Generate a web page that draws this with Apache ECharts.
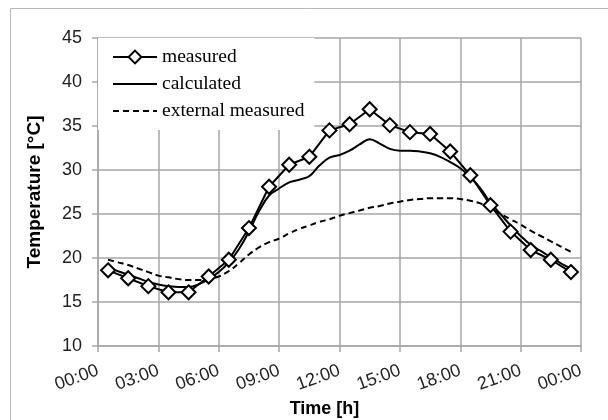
<!DOCTYPE html>
<html>
<head>
<meta charset="utf-8">
<script src="https://cdn.jsdelivr.net/npm/echarts@6/dist/echarts.min.js"></script>
<style>
  html, body { margin: 0; padding: 0; background: #fff; }
  #main { width: 608px; height: 420px; }
</style>
</head>
<body>
<div id="main"></div>
<script>
// hours of day for the measured points
var measuredHours = [0.5, 1.5, 2.5, 3.5, 4.5, 5.5, 6.5, 7.5, 8.5, 9.5, 10.5, 11.5,
  12.5, 13.5, 14.5, 15.5, 16.5, 17.5, 18.5, 19.5, 20.5, 21.5, 22.5, 23.5];
var measured = [18.6, 17.7, 16.8, 16.1, 16.1, 17.9, 19.8, 23.4, 28.1, 30.6, 31.5, 34.5,
  35.2, 36.9, 35.1, 34.3, 34.1, 32.1, 29.4, 26.0, 23.0, 20.9, 19.8, 18.4];

// half-hourly curves
var curveHours = [0.5, 1, 1.5, 2, 2.5, 3, 3.5, 4, 4.5, 5, 5.5, 6, 6.5, 7, 7.5, 8, 8.5, 9,
  9.5, 10, 10.5, 11, 11.5, 12, 12.5, 13, 13.5, 14, 14.5, 15, 15.5, 16, 16.5, 17, 17.5,
  18, 18.5, 19, 19.5, 20, 20.5, 21, 21.5, 22, 22.5, 23, 23.5];
var calculated = [18.9, 18.5, 18.1, 17.7, 17.3, 17.0, 16.8, 16.7, 16.7, 17.0, 17.6, 18.4,
  19.5, 21.0, 23.0, 25.3, 27.1, 27.9, 28.6, 28.9, 29.3, 30.5, 31.4, 31.7, 32.2, 32.9,
  33.5, 33.0, 32.4, 32.2, 32.2, 32.1, 31.9, 31.5, 30.9, 30.2, 29.2, 27.9, 26.3, 25.0,
  23.7, 22.5, 21.5, 20.8, 20.1, 19.4, 18.8];
var external = [19.8, 19.5, 19.2, 18.8, 18.4, 18.0, 17.8, 17.6, 17.5, 17.5, 17.6, 17.9,
  18.5, 19.4, 20.4, 21.2, 21.8, 22.2, 22.8, 23.3, 23.7, 24.1, 24.4, 24.8, 25.1, 25.4,
  25.7, 25.9, 26.2, 26.4, 26.6, 26.7, 26.8, 26.8, 26.8, 26.7, 26.5, 26.2, 25.6, 25.0,
  24.4, 23.8, 23.1, 22.5, 21.9, 21.3, 20.7];

var seriesNames = ['measured', 'calculated', 'external measured'];

function pairs(xs, ys) {
  return xs.map(function (x, i) { return [x, ys[i]]; });
}

var chartDom = document.getElementById('main');
var myChart = echarts.init(chartDom);
var option;

var gridLine = { show: true, lineStyle: { color: '#a6a6a6', width: 1.5 } };
var axisLine = { show: true, lineStyle: { color: '#a6a6a6', width: 1.5 } };

option = {
  animation: false,
  graphic: [{
    type: 'rect',
    shape: { x: 10.5, y: 8.5, width: 640, height: 440 },
    style: { fill: 'none', stroke: '#b8b8b8', lineWidth: 1 },
    z: 0
  }],
  grid: { left: 98, right: 27, top: 38, bottom: 74, outerBoundsMode: 'none' },
  legend: {
    data: [
      { name: seriesNames[0] },
      { name: seriesNames[1], itemStyle: { opacity: 0 } },
      { name: seriesNames[2], itemStyle: { opacity: 0 } }
    ],
    orient: 'vertical',
    left: 98,
    top: 38,
    padding: [9, 10, 9, 14],
    itemGap: 7,
    itemWidth: 44,
    itemHeight: 16,
    backgroundColor: '#fff',
    textStyle: { fontFamily: 'Liberation Serif', fontSize: 19.5, color: '#000' }
  },
  xAxis: {
    type: 'value',
    min: 0,
    max: 24,
    interval: 3,
    name: 'Time [h]',
    nameLocation: 'middle',
    nameGap: 52,
    nameTextStyle: {
      fontFamily: 'Liberation Sans', fontSize: 18, fontWeight: 'bold', color: '#000',
      padding: [0, 30, 0, 0]
    },
    axisLine: axisLine,
    axisTick: { show: true, length: 6, lineStyle: { color: '#a6a6a6', width: 1.5 } },
    splitLine: gridLine,
    axisLabel: {
      rotate: 20,
      margin: 24,
      fontFamily: 'Liberation Sans',
      fontSize: 18,
      color: '#222',
      formatter: function (v) {
        var h = v % 24;
        return (h < 10 ? '0' : '') + h + ':00';
      }
    }
  },
  yAxis: {
    type: 'value',
    min: 10,
    max: 45,
    interval: 5,
    name: 'Temperature [°C]',
    nameLocation: 'middle',
    nameGap: 54,
    nameTextStyle: { fontFamily: 'Liberation Sans', fontSize: 19, fontWeight: 'bold', color: '#000' },
    axisLine: axisLine,
    axisTick: { show: true, length: 6, lineStyle: { color: '#a6a6a6', width: 1.5 } },
    splitLine: gridLine,
    axisLabel: { margin: 16, fontFamily: 'Liberation Sans', fontSize: 18, color: '#222' }
  },
  series: [
    {
      name: seriesNames[0],
      type: 'line',
      data: pairs(measuredHours, measured),
      symbol: 'diamond',
      symbolSize: 14,
      showAllSymbol: true,
      itemStyle: { color: '#fff', borderColor: '#000', borderWidth: 2 },
      lineStyle: { color: '#000', width: 2 },
      z: 5
    },
    {
      name: seriesNames[1],
      type: 'line',
      data: pairs(curveHours, calculated),
      smooth: 0.4,
      showSymbol: false,
      symbol: 'none',
      itemStyle: { color: '#000' },
      lineStyle: { color: '#000', width: 2 },
      z: 4
    },
    {
      name: seriesNames[2],
      type: 'line',
      data: pairs(curveHours, external),
      smooth: 0.4,
      showSymbol: false,
      symbol: 'none',
      itemStyle: { color: '#000' },
      lineStyle: { color: '#000', width: 2, type: [6, 4] },
      z: 3
    }
  ]
};

option && myChart.setOption(option);
</script>
</body>
</html>
